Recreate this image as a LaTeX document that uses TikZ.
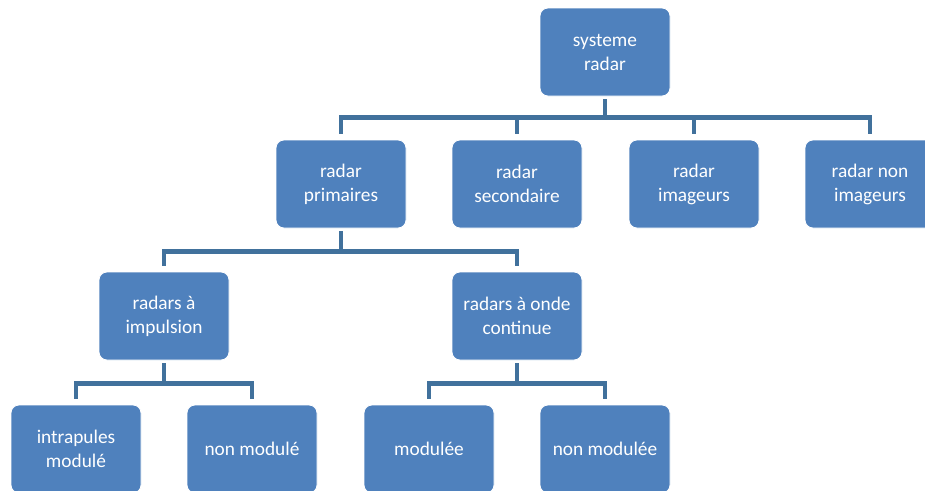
\documentclass[tikz,border=0pt]{standalone}
\usepackage{fontspec}
\setmainfont{Carlito}
\definecolor{boxblue}{HTML}{4F81BD}
\definecolor{linkblue}{HTML}{41719C}
\begin{document}
\begin{tikzpicture}[x=0.75pt,y=-0.75pt,
  box/.style={draw=white,line width=0.6pt,fill=boxblue,rounded corners=6pt,
    minimum width=97.5pt,minimum height=66pt,inner sep=2pt,text=white,
    align=center,font=\fontsize{14.5}{18}\selectfont},
  link/.style={draw=linkblue,line width=3.4pt,shorten <=2pt,shorten >=4.5pt}]
\useasboundingbox (0,0) rectangle (925,490);

\node[box] (systeme) at (605,52) {systeme\\radar};

\node[box] (primaires) at (341,184) {radar\\primaires};
\node[box] (secondaire) at (517,184) {radar\\secondaire};
\node[box] (imageurs) at (694,184) {radar\\imageurs};
\node[box] (nonimageurs) at (870,184) {radar non\\imageurs};

\node[box] (impulsion) at (164,316) {radars à\\impulsion};
\node[box] (onde) at (517,316) {radars à onde\\continue};

\node[box] (intrapules) at (76,449) {intrapules\\modulé};
\node[box] (nonmodule) at (252,449) {non modulé};
\node[box] (modulee) at (429,449) {modulée};
\node[box] (nonmodulee) at (605,449) {non modulée};

\draw[link]
(systeme.south) -- ++(0,21) -| (primaires.north);
\draw[link]
(systeme.south) -- ++(0,21) -| (secondaire.north);
\draw[link]
(systeme.south) -- ++(0,21) -| (imageurs.north);
\draw[link]
(systeme.south) -- ++(0,21) -| (nonimageurs.north);

\draw[link]
(primaires.south) -- ++(0,23) -| (impulsion.north);
\draw[link]
(primaires.south) -- ++(0,23) -| (onde.north);

\draw[link]
(impulsion.south) -- ++(0,23) -| (intrapules.north);
\draw[link]
(impulsion.south) -- ++(0,23) -| (nonmodule.north);
\draw[link]
(onde.south) -- ++(0,23) -| (modulee.north);
\draw[link]
(onde.south) -- ++(0,23) -| (nonmodulee.north);
\end{tikzpicture}
\end{document}
